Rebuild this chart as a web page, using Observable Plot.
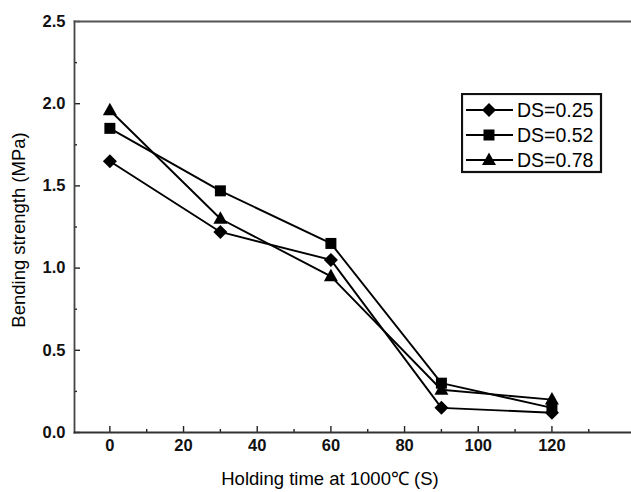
<!DOCTYPE html>
<html>
<head>
<meta charset="utf-8">
<script src="https://cdn.jsdelivr.net/npm/d3@7"></script>
<script src="https://cdn.jsdelivr.net/npm/@observablehq/plot@0.6"></script>
<style>
  html, body { margin: 0; padding: 0; background: #fff; }
  #wrap { position: relative; width: 631px; height: 492px; overflow: hidden; }
  #legend { position: absolute; left: 461px; top: 93px; }
</style>
</head>
<body>
<div id="wrap"><div id="chart"></div><div id="legend"></div></div>
<script>
const times = [0, 30, 60, 90, 120];
const seriesNames = ["DS=0.25", "DS=0.52", "DS=0.78"];
const ds025 = [1.65, 1.22, 1.05, 0.15, 0.12];
const ds052 = [1.85, 1.47, 1.15, 0.30, 0.15];
const ds078 = [1.96, 1.30, 0.95, 0.26, 0.20];
const xTicks = [0, 20, 40, 60, 80, 100, 120];
const xMinorTicks = [10, 30, 50, 70, 90, 110, 130];
const yTicks = [0.0, 0.5, 1.0, 1.5, 2.0, 2.5];
const yMinorTicks = [0.25, 0.75, 1.25, 1.75, 2.25];

const seriesValues = [ds025, ds052, ds078];
const data = [];
seriesNames.forEach((s, i) => times.forEach((t, j) => data.push({series: s, time: t, value: seriesValues[i][j]})));

// marker shapes (filled black)
const diamond = {draw(c) { const h = 7; c.moveTo(0, -h); c.lineTo(h, 0); c.lineTo(0, h); c.lineTo(-h, 0); c.closePath(); }};
const square = {draw(c) { const h = 5.5; c.rect(-h, -h, 2 * h, 2 * h); }};
const triangle = {draw(c) { const w = 7, t = 7.5, b = 5; c.moveTo(0, -t); c.lineTo(w, b); c.lineTo(-w, b); c.closePath(); }};
const shapes = [diamond, square, triangle];

const font = "'Liberation Sans', Arial, sans-serif";
const tickStyle = {stroke: "#222", strokeWidth: 1.4, label: null};

const chart = Plot.plot({
  width: 631,
  height: 492,
  marginTop: 21,
  marginBottom: 60,
  marginLeft: 74,
  marginRight: 0,
  style: {fontFamily: font, fontSize: "16px", fontWeight: "bold", color: "#111"},
  x: {domain: [-9.6, 141.6]},
  y: {domain: [0, 2.5]},
  marks: [
    // inward major/minor ticks
    Plot.axisX({ticks: xTicks, tickSize: 6, dy: -6, text: null, ...tickStyle}),
    Plot.axisX({ticks: xMinorTicks, tickSize: 3, dy: -3, text: null, ...tickStyle}),
    Plot.axisY({ticks: yTicks, tickSize: 6, dx: 6, text: null, ...tickStyle}),
    Plot.axisY({ticks: yMinorTicks, tickSize: 3, dx: 3, text: null, ...tickStyle}),
    // tick labels
    Plot.axisX({ticks: xTicks, tickSize: 0, tickPadding: 7, tickFormat: d => d, label: null, fill: "#111"}),
    Plot.axisY({ticks: yTicks, tickSize: 0, tickPadding: 9, tickFormat: d3.format(".1f"), label: null, fill: "#111"}),
    // partial frame (right side cut off as in the source)
    Plot.frame({anchor: "left", stroke: "#444", strokeWidth: 1.8}),
    Plot.frame({anchor: "top", stroke: "#555", strokeWidth: 1.8}),
    Plot.frame({anchor: "bottom", stroke: "#333", strokeWidth: 1.9}),
    Plot.line(data, {x: "time", y: "value", z: "series", stroke: "#000", strokeWidth: 1.9}),
    ...seriesNames.map((s, i) => Plot.dot(data, {filter: d => d.series === s, x: "time", y: "value", symbol: shapes[i], fill: "#000", stroke: "none", r: 5}))
  ]
});
document.getElementById("chart").appendChild(chart);

const svg = d3.select(chart);
// enlarge tick labels
svg.selectAll("g[aria-label$='tick label']").style("font-size", "16.5px").attr("font-size", null)
  .selectAll("text").style("font-size", "16.5px");

// axis titles
svg.append("text")
  .attr("x", 330).attr("y", 485)
  .attr("text-anchor", "middle")
  .style("font-family", font).style("font-size", "18.5px").style("font-weight", "normal").attr("fill", "#000")
  .text("Holding time at 1000\u2103 (S)");
svg.append("text")
  .attr("transform", "translate(25,230) rotate(-90)")
  .attr("text-anchor", "middle")
  .style("font-family", font).style("font-size", "18.5px").style("font-weight", "normal").attr("fill", "#000")
  .text("Bending strength (MPa)");

// legend
const lg = d3.select("#legend").append("svg").attr("width", 142).attr("height", 81);
lg.append("rect").attr("x", 1).attr("y", 1).attr("width", 139).attr("height", 78)
  .attr("fill", "#fff").attr("stroke", "#111").attr("stroke-width", 2.2);
seriesNames.forEach((s, i) => {
  const cy = 17 + i * 25;
  lg.append("line").attr("x1", 5).attr("x2", 52).attr("y1", cy).attr("y2", cy).attr("stroke", "#000").attr("stroke-width", 1.9);
  const p = d3.path();
  shapes[i].draw(p);
  lg.append("path").attr("transform", `translate(28,${cy})`).attr("d", p.toString()).attr("fill", "#000");
  lg.append("text").attr("x", 56).attr("y", cy + 7)
    .style("font-family", font).style("font-size", "19.5px").style("font-weight", "normal").attr("fill", "#000")
    .text(s);
});
</script>
</body>
</html>
